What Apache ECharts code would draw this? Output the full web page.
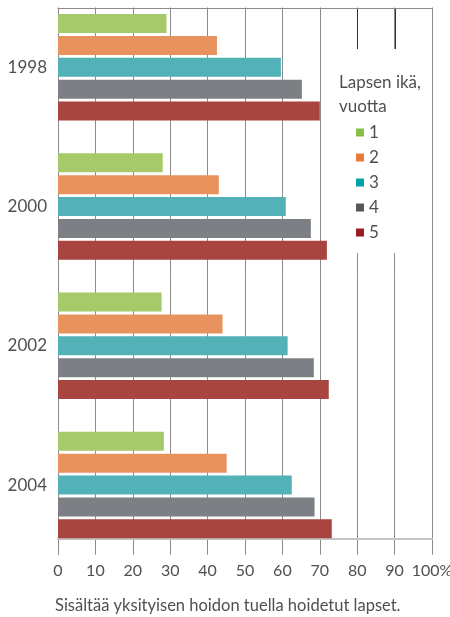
<!DOCTYPE html>
<html>
<head>
<meta charset="utf-8">
<script src="https://cdn.jsdelivr.net/npm/echarts@6/dist/echarts.min.js"></script>
<style>
  html, body { margin: 0; padding: 0; background: #fff; }
  #chart { width: 450px; height: 617px; }
</style>
</head>
<body>
<div id="chart"></div>
<script>
// categories and values (percent of children in care, by age)
const years = ['1998', '2000', '2002', '2004'];
const ageNames = ['1', '2', '3', '4', '5'];
const age1 = [29.0, 28.0, 27.7, 28.3];
const age2 = [42.5, 43.0, 44.0, 45.1];
const age3 = [59.6, 60.9, 61.4, 62.5];
const age4 = [65.2, 67.6, 68.4, 68.6];
const age5 = [70.0, 71.9, 72.4, 73.2];
const xTickLabels = ['0', '10', '20', '30', '40', '50', '60', '70', '80', '90', '100%'];

const barColors = ['#a6c96a', '#e8925e', '#52b2b8', '#7c7f83', '#a94541'];
const legendColors = ['#8cbf4a', '#ea7940', '#00a4a9', '#54585c', '#9a1b25'];
const font = "Lato, 'DejaVu Sans', sans-serif";
const textColor = '#505050';
const lineGray = '#8c8c8c';

const chart = echarts.init(document.getElementById('chart'));
const seriesData = [age1, age2, age3, age4, age5];

chart.setOption({
  animation: false,
  textStyle: { fontFamily: font },
  grid: { left: 58, right: 18, top: -2.35, bottom: 62.3, containLabel: false, outerBoundsMode: 'none' },
  title: [
    {
      text: 'Lapsen ikä,\nvuotta',
      left: 339, top: 71, padding: 0,
      textStyle: { fontFamily: font, fontSize: 17, fontWeight: 'normal', color: textColor, lineHeight: 24 }
    },
    {
      text: 'Sisältää yksityisen hoidon tuella hoidetut lapset.',
      left: 55, top: 597, padding: 0,
      textStyle: { fontFamily: font, fontSize: 16.5, fontWeight: 'normal', color: textColor }
    }
  ],
  legend: {
    orient: 'vertical',
    left: 356, top: 124, padding: 0,
    itemWidth: 8, itemHeight: 8, itemGap: 8,
    icon: 'rect',
    textStyle: { fontFamily: font, fontSize: 17, color: textColor, lineHeight: 16 },
    data: ageNames.map((n, i) => ({ name: n, itemStyle: { color: legendColors[i] } }))
  },
  xAxis: [
    {
      type: 'value', min: 0, max: 100, interval: 10,
      position: 'bottom', offset: -15.7,
      axisLine: { show: true, lineStyle: { color: '#c4c4c4', width: 2 } },
      axisTick: { show: false },
      axisLabel: {
        fontFamily: font, fontSize: 16, color: textColor, margin: 24,
        formatter: v => xTickLabels[Math.round(v / 10)]
      },
      splitLine: { show: true, lineStyle: { color: lineGray, width: 1 } }
    },
    {
      type: 'value', min: 0, max: 100, interval: 10,
      position: 'top', offset: -10.35, z: 3,
      axisLine: { show: true, lineStyle: { color: lineGray, width: 1 } },
      axisTick: { show: false },
      axisLabel: { show: false },
      splitLine: { show: false }
    }
  ],
  yAxis: {
    type: 'category', data: years, inverse: true,
    axisLine: { show: true, lineStyle: { color: lineGray, width: 1 } },
    axisTick: { show: false },
    axisLabel: { fontFamily: font, fontSize: 17, color: textColor, margin: 11 }
  },
  series: ageNames.map((n, i) => ({
    name: n,
    type: 'bar',
    xAxisIndex: 0,
    data: seriesData[i],
    barWidth: 19,
    barGap: '15%',
    itemStyle: { color: barColors[i] },
    emphasis: { disabled: true }
  }))
});

// white cover above the frame, the legend box, and the dark stubs at 80 and 90
const px80 = Math.round(chart.convertToPixel({ xAxisIndex: 0 }, 80)) + 0.5;
const px90 = Math.round(chart.convertToPixel({ xAxisIndex: 0 }, 90)) + 0.5;
chart.setOption({
  graphic: [
    { type: 'rect', z: 1, shape: { x: 0, y: 0, width: 450, height: 7.5 }, style: { fill: '#fff' } },
    { type: 'rect', z: 1, shape: { x: 333, y: 49, width: 93, height: 204 }, style: { fill: '#fff' } },
    { type: 'line', z: 3, shape: { x1: px80, y1: 8, x2: px80, y2: 49 }, style: { stroke: '#333', lineWidth: 1 } },
    { type: 'line', z: 3, shape: { x1: px90, y1: 8, x2: px90, y2: 49 }, style: { stroke: '#333', lineWidth: 1 } }
  ]
});
</script>
</body>
</html>
